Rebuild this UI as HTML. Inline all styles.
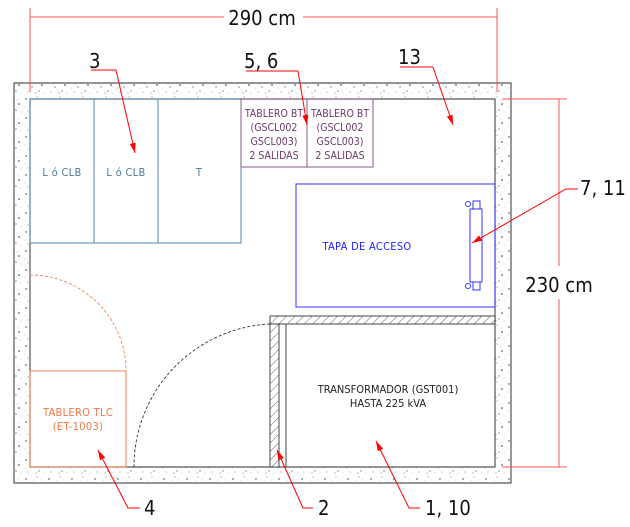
<!DOCTYPE html>
<html><head><meta charset="utf-8"><style>
html,body{margin:0;padding:0;background:#fff;}
svg{display:block;}
text{font-family:"DejaVu Sans Condensed","Liberation Sans Narrow","Liberation Sans",sans-serif;}
.s{letter-spacing:0.3px;}
</style></head><body>
<svg width="630" height="527" viewBox="0 0 630 527" xmlns="http://www.w3.org/2000/svg">
<defs>
<pattern id="conc" width="23" height="19" patternUnits="userSpaceOnUse">
<rect width="23" height="19" fill="#fff"/>
<circle cx="3" cy="4" r="0.7" fill="#333"/><circle cx="14" cy="2" r="0.5" fill="#555"/>
<circle cx="9" cy="11" r="0.6" fill="#444"/><circle cx="19" cy="9" r="0.8" fill="#333"/>
<circle cx="5" cy="16" r="0.5" fill="#666"/><circle cx="16" cy="15" r="0.6" fill="#444"/>
<circle cx="21" cy="17" r="0.4" fill="#777"/><circle cx="11" cy="6" r="0.4" fill="#777"/>
<circle cx="7" cy="8" r="0.4" fill="#777"/><circle cx="2" cy="12" r="0.4" fill="#777"/>
<circle cx="13" cy="17" r="0.5" fill="#555"/><circle cx="18" cy="5" r="0.4" fill="#777"/>
</pattern>
<pattern id="hatch" width="6" height="6" patternUnits="userSpaceOnUse" patternTransform="rotate(45)">
<rect width="6" height="6" fill="#fff"/><line x1="0" y1="0" x2="0" y2="6" stroke="#333" stroke-width="0.8"/>
</pattern>
<marker id="ar" markerWidth="10" markerHeight="6" refX="10" refY="3" orient="auto" markerUnits="userSpaceOnUse">
<path d="M0,0 L10,3 L0,6 z" fill="red"/></marker>
</defs>
<path d="M14,83 H511 V483 H14 Z M30,99 V467 H495 V99 Z" fill="url(#conc)" fill-rule="evenodd" stroke="#555" stroke-width="1.2"/>
<g stroke="#f55" stroke-width="1" fill="none">
<line x1="30" y1="8" x2="30" y2="92"/><line x1="497" y1="8" x2="497" y2="92"/>
<line x1="30" y1="17" x2="224" y2="17"/><line x1="303" y1="17" x2="497" y2="17"/>
<line x1="502" y1="99" x2="567" y2="99"/><line x1="502" y1="467" x2="567" y2="467"/>
<line x1="559" y1="99" x2="559" y2="266"/><line x1="559" y1="299" x2="559" y2="467"/>
</g>
<text x="262" y="25" font-size="20" text-anchor="middle" fill="#111">290 cm</text>
<text x="559" y="292" font-size="20" text-anchor="middle" fill="#111">230 cm</text>
<g stroke="#5a86a8" stroke-width="1" fill="none">
<rect x="30" y="99" width="64" height="144"/><rect x="94" y="99" width="64" height="144"/><rect x="158" y="99" width="83" height="144"/>
</g>
<g font-size="11" fill="#4a7aa0" text-anchor="middle" class="s">
<text x="62" y="176">L ó CLB</text><text x="126" y="176">L ó CLB</text><text x="199" y="176">T</text>
</g>
<g stroke="#8a5a8a" stroke-width="1" fill="none">
<rect x="241" y="99" width="66" height="68"/><rect x="307" y="99" width="66" height="68"/>
</g>
<g font-size="10.5" fill="#6a3a6a" text-anchor="middle">
<text x="274" y="117">TABLERO BT</text><text x="274" y="131">(GSCL002</text><text x="274" y="145">GSCL003)</text><text x="274" y="159">2 SALIDAS</text>
<text x="340" y="117">TABLERO BT</text><text x="340" y="131">(GSCL002</text><text x="340" y="145">GSCL003)</text><text x="340" y="159">2 SALIDAS</text>
</g>
<g stroke="#33f" stroke-width="1" fill="none">
<rect x="296" y="184" width="199" height="123"/>
<rect x="470" y="209" width="12" height="73"/>
<rect x="473" y="201" width="7" height="8"/><rect x="473" y="282" width="7" height="8"/>
<circle cx="468" cy="204" r="2.5"/><circle cx="468" cy="286" r="2.5"/>
</g>
<text x="367" y="250" font-size="11" fill="#22f" text-anchor="middle" class="s">TAPA DE ACCESO</text>
<rect x="270" y="316" width="225" height="8" fill="url(#hatch)" stroke="#444" stroke-width="1"/>
<rect x="270" y="324" width="9" height="143" fill="url(#hatch)" stroke="#444" stroke-width="1"/>
<line x1="286" y1="324" x2="286" y2="467" stroke="#444" stroke-width="1"/>
<text x="388" y="393" font-size="11" fill="#222" text-anchor="middle">TRANSFORMADOR (GST001)</text>
<text x="388" y="407" font-size="11" fill="#222" text-anchor="middle">HASTA 225 kVA</text>
<path d="M270,324 A143,143 0 0 0 134,467" stroke="#333" stroke-width="0.9" fill="none" stroke-dasharray="3,2"/>
<rect x="30" y="371" width="96" height="96" stroke="#f08050" stroke-width="1" fill="none"/>
<path d="M30,275 A96,96 0 0 1 126,371" stroke="#f08050" stroke-width="0.9" fill="none" stroke-dasharray="3,2"/>
<text x="78" y="416" font-size="11" fill="#f07848" text-anchor="middle" class="s">TABLERO TLC</text>
<text x="78" y="430" font-size="11" fill="#f07848" text-anchor="middle" class="s">(ET-1003)</text>
<g stroke="red" stroke-width="1" fill="none" marker-end="url(#ar)">
<polyline points="91,70 116,70 135,153"/>
<polyline points="246,71 298,71 307,125"/>
<polyline points="400,67 433,67 453,125"/>
<polyline points="578,189 566,189 472,243"/>
<polyline points="140,508 128,508 98,450"/>
<polyline points="313,508 303,508 277,450"/>
<polyline points="420,508 409,508 376,441"/>
</g>
<g font-size="20" fill="#111">
<text x="89" y="68">3</text>
<text x="244" y="68">5, 6</text>
<text x="398" y="64">13</text>
<text x="580" y="195">7, 11</text>
<text x="144" y="515">4</text>
<text x="318" y="515">2</text>
<text x="425" y="515">1, 10</text>
</g>
</svg>
</body></html>
